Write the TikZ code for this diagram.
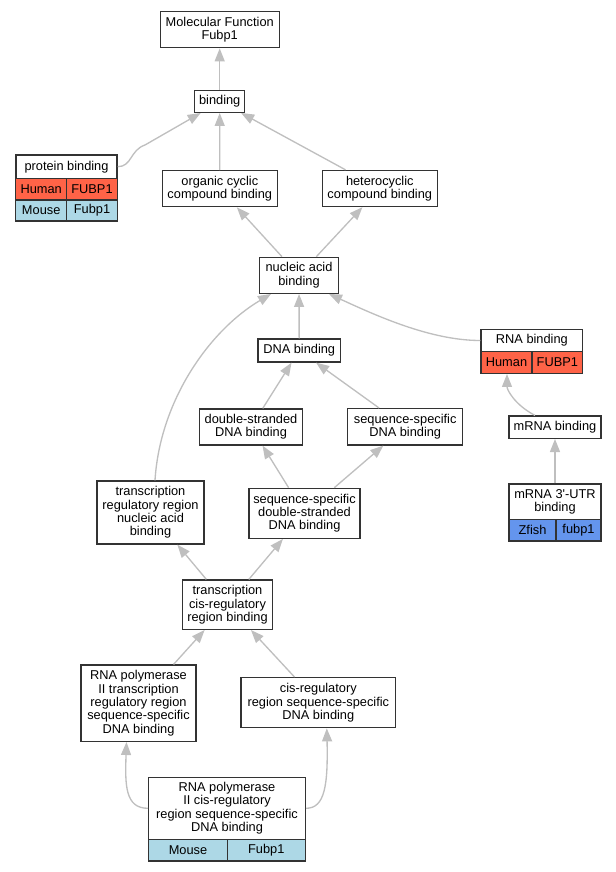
\documentclass[tikz,border=0pt]{standalone}
\usepackage{fontspec}
\setmainfont{Liberation Sans}
\usetikzlibrary{arrows.meta,calc}
\definecolor{HumanRed}{HTML}{FF6347}
\definecolor{MouseBlue}{HTML}{ADD8E6}
\definecolor{ZfishBlue}{HTML}{6495ED}
\tikzset{
  term/.style={draw=black!80, line width=1pt, fill=white, inner sep=0pt, align=center, font=\fontsize{9.6}{10}\selectfont},
  human/.style={term, fill=HumanRed},
  mouse/.style={term, fill=MouseBlue},
  zfish/.style={term, fill=ZfishBlue},
  sz/.style 2 args={minimum width=#1, minimum height=#2},
  isa/.style={draw=black!25, line width=1pt, -{Triangle[length=9.75pt,width=7.5pt]}}
}
\begin{document}
\begin{tikzpicture}[x=0.75pt,y=-0.75pt]
\useasboundingbox (0,0) rectangle (616,872);
\node[term] (mf)[sz={89.25pt}{27pt}] at (219.7,29.7) {Molecular Function\\Fubp1};
\node[term] (bind)[sz={37.5pt}{16.5pt}] at (219.7,101.3) {binding};
\node[term] (pbh)[sz={75.9pt}{17.5pt}] at (66.5,166.7) {protein binding};
\node[human] (pbhs)[sz={38.25pt}{16.3pt}] at (41.2,189.2) {Human};
\node[human] (pbhg)[sz={37.95pt}{16.3pt}] at (92,189.2) {FUBP1};
\node[mouse] (pbms)[sz={38.25pt}{15.75pt}] at (41.2,210.5) {Mouse};
\node[mouse] (pbmg)[sz={37.95pt}{15.75pt}] at (92,210.5) {Fubp1};
\node[term] (org)[sz={86.25pt}{27pt}] at (219.8,188.7) {organic cyclic\\compound binding};
\node[term] (het)[sz={86.25pt}{27pt}] at (379.8,188.5) {heterocyclic\\compound binding};
\node[term] (nuc)[sz={59pt}{27pt}] at (299,275.3) {nucleic acid\\binding};
\node[term] (dna)[sz={62pt}{17.25pt}] at (299.2,350.5) {DNA binding};
\node[term] (rnah)[sz={76.3pt}{16.8pt}] at (531.9,340.5) {RNA binding};
\node[human] (rnahs)[sz={38.25pt}{16.2pt}] at (506.5,362.5) {Human};
\node[human] (rnahg)[sz={38pt}{16.2pt}] at (557.35,362.5) {FUBP1};
\node[term] (ds)[sz={77.5pt}{27pt}] at (251,427) {double-stranded\\DNA binding};
\node[term] (ss)[sz={86.25pt}{27.2pt}] at (405.2,426.8) {sequence-specific\\DNA binding};
\node[term] (mrna)[sz={69pt}{16.7pt}] at (555,427.2) {mRNA binding};
\node[term] (trr)[sz={80.25pt}{47.25pt}] at (150.5,512.5) {transcription\\regulatory region\\nucleic acid\\binding};
\node[term] (ssds)[sz={83.25pt}{37.5pt}] at (304.5,513.3) {sequence-specific\\double-stranded\\DNA binding};
\node[term] (utrh)[sz={69pt}{26.5pt}] at (555,501.7) {mRNA 3\textquotesingle-UTR\\binding};
\node[zfish] (utrzs)[sz={35.25pt}{16.3pt}] at (532.5,530.2) {Zfish};
\node[zfish] (utrzg)[sz={33.75pt}{16.3pt}] at (578.5,530.2) {fubp1};
\node[term] (tcrb)[sz={67.8pt}{37pt}] at (227.5,604.7) {transcription\\cis-regulatory\\region binding};
\node[term] (rp2t)[sz={86.25pt}{57.2pt}] at (138.5,703.2) {RNA polymerase\\II transcription\\regulatory region\\sequence-specific\\DNA binding};
\node[term] (cisr)[sz={116pt}{37.5pt}] at (318.3,702.7) {cis-regulatory\\region sequence-specific\\DNA binding};
\node[term] (rp2c)[sz={117.5pt}{46.5pt}] at (227,808.3) {RNA polymerase\\II cis-regulatory\\region sequence-specific\\DNA binding};
\node[mouse] (rp2cms)[sz={59pt}{16.3pt}] at (188,850.2) {Mouse};
\node[mouse] (rp2cmg)[sz={58.5pt}{16.3pt}] at (266.3,850.2) {Fubp1};
\draw[isa] (bind) -- (mf);
\draw[isa] (pbh.east) .. controls (132,166.7) and (130,150) .. (145,145) -- ($(bind.south)+(-19,0)$);
\draw[isa] (org) -- (bind);
\draw[isa] (het) -- (bind);
\draw[isa] (nuc) -- (org);
\draw[isa] (nuc) -- (het);
\draw[isa] (dna) -- (nuc);
\draw[isa] (rnah.west) .. controls (430,340.5) and (375,315) .. ($(nuc.south east)+(-10,0)$);
\draw[isa] (ds) -- (dna);
\draw[isa] (ss) -- (dna);
\draw[isa] ($(mrna.north)+(-20,0)$) .. controls (515,405) and (507,390) .. ($(rnahs.south)+(0.5,0)$);
\draw[isa] (utrh) -- (mrna);
\draw[isa] ($(trr.north)+(4.5,0)$) .. controls (160,400) and (210,330) .. ($(nuc.south west)+(12,0)$);
\draw[isa] (ssds) -- (ds);
\draw[isa] (ssds) -- (ss);
\draw[isa] (tcrb) -- (trr);
\draw[isa] (tcrb) -- (ssds);
\draw[isa] (rp2t) -- (tcrb);
\draw[isa] (cisr) -- (tcrb);
\draw[isa] (rp2c.west) .. controls (125,808.3) and (125,785) .. ($(rp2t.south)+(-12,0)$);
\draw[isa] (rp2c.east) .. controls (325,808.3) and (328,785) .. ($(cisr.south)+(8.5,0)$);
\end{tikzpicture}
\end{document}
